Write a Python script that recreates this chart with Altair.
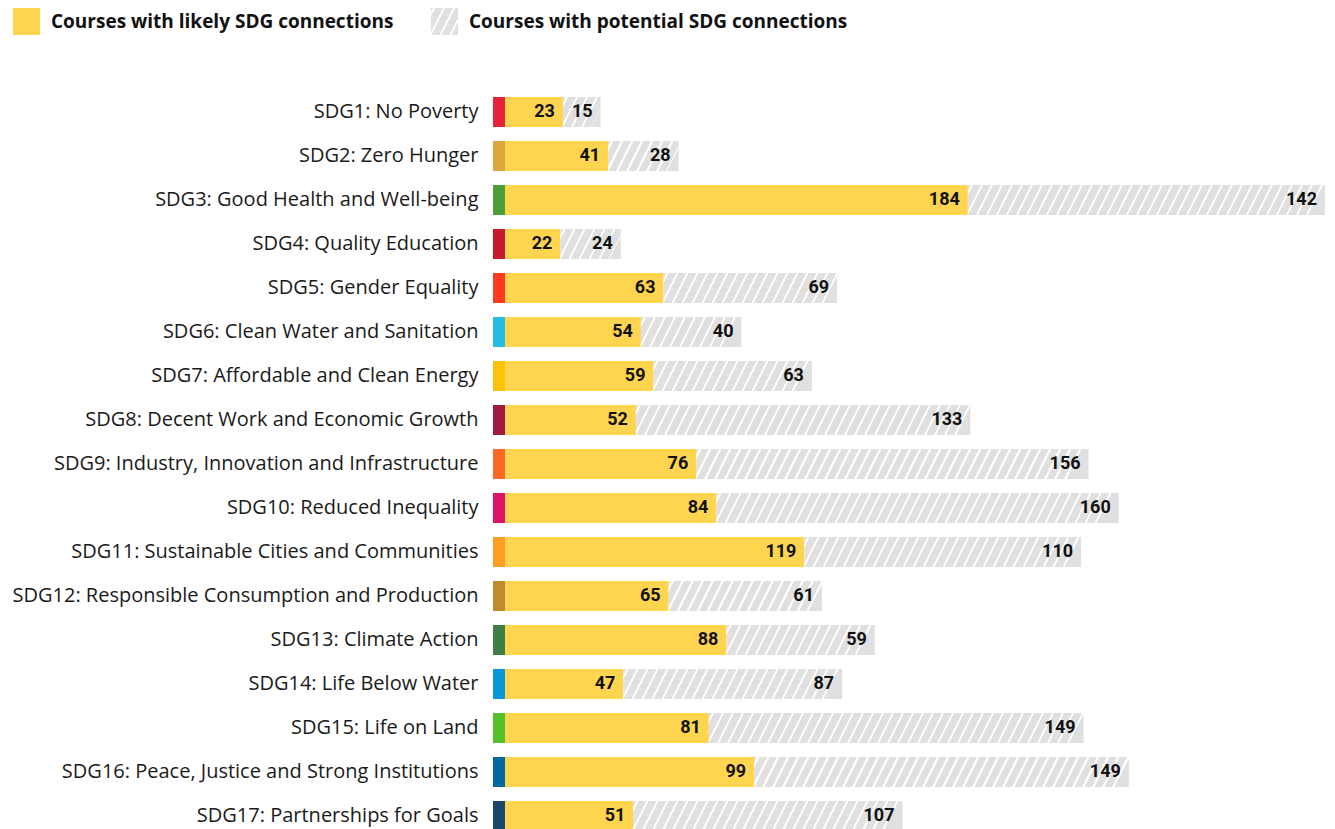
import json
import altair as alt
import pandas as pd

# ---------------- data ----------------
sdgs = [
    "SDG1: No Poverty",
    "SDG2: Zero Hunger",
    "SDG3: Good Health and Well-being",
    "SDG4: Quality Education",
    "SDG5: Gender Equality",
    "SDG6: Clean Water and Sanitation",
    "SDG7: Affordable and Clean Energy",
    "SDG8: Decent Work and Economic Growth",
    "SDG9: Industry, Innovation and Infrastructure",
    "SDG10: Reduced Inequality",
    "SDG11: Sustainable Cities and Communities",
    "SDG12: Responsible Consumption and Production",
    "SDG13: Climate Action",
    "SDG14: Life Below Water",
    "SDG15: Life on Land",
    "SDG16: Peace, Justice and Strong Institutions",
    "SDG17: Partnerships for Goals",
]
likely = [23, 41, 184, 22, 63, 54, 59, 52, 76, 84, 119, 65, 88, 47, 81, 99, 51]
potential = [15, 28, 142, 24, 69, 40, 63, 133, 156, 160, 110, 61, 59, 87, 149, 149, 107]
sdg_colors = [
    "#E5243B", "#DDA63A", "#4C9F38", "#C5192D", "#FF3A21", "#26BDE2",
    "#FCC30B", "#A21942", "#FD6925", "#DD1367", "#FD9D24", "#BF8B2E",
    "#3F7E44", "#0A97D9", "#56C02B", "#00689D", "#19486A",
]

LIKELY_LABEL = "Courses with likely SDG connections"
POTENTIAL_LABEL = "Courses with potential SDG connections"

# ---------------- style ----------------
YELLOW = "#FFD44F"
GRAY = "#E0E0E0"
X_MIN, X_MAX = -4.8, 326
WIDTH, HEIGHT = 832, 748
PX = WIDTH / (X_MAX - X_MIN)
BAR_H = 30
TOP = 82


def hatch(w, h, slope=0.5, period=10.0, line=2.2, phase=3.0):
    """Diagonal white stripes on gray, as a hard-stop linear gradient."""
    b = slope * h / w
    T = w * (1 + b * b)
    stops = [{"offset": 0, "color": GRAY}]
    s = phase
    while s < w + slope * h:
        t0 = min(s / T, 1)
        t1 = min((s + line) / T, 1)
        stops += [
            {"offset": round(t0, 5), "color": GRAY},
            {"offset": round(t0, 5), "color": "#ffffff"},
            {"offset": round(t1, 5), "color": "#ffffff"},
            {"offset": round(t1, 5), "color": GRAY},
        ]
        s += period
    stops.append({"offset": 1, "color": GRAY})
    return {"gradient": "linear", "x1": 0, "y1": 0, "x2": 1, "y2": round(b, 5), "stops": stops}


df = pd.DataFrame({
    "sdg": sdgs,
    "likely": likely,
    "potential": potential,
    "stub_color": sdg_colors,
})
df["total"] = df["likely"] + df["potential"]
df["stub_start"] = X_MIN
df["zero"] = 0
df["type"] = LIKELY_LABEL
df["ptype"] = POTENTIAL_LABEL
df["hatch"] = [hatch(p * PX, BAR_H) for p in potential]

legend_hatch = hatch(27, 27, phase=2.0)

legend_common = dict(
    title=None, orient="none", legendY=-TOP,
    direction="horizontal", symbolType="square", symbolSize=729,
    symbolStrokeWidth=0, symbolOpacity=1, labelFont="Open Sans", labelFontWeight="bold",
    labelFontSize=19, labelColor="#111111", labelOffset=11,
    padding=0, labelLimit=600,
)

xscale = alt.Scale(domain=[X_MIN, X_MAX], nice=False, zero=False)
Y = alt.Y(
    "sdg:N",
    sort=sdgs,
    scale=alt.Scale(paddingInner=0.318, paddingOuter=0.159),
    axis=alt.Axis(
        title=None, labelFont="Open Sans", labelFontSize=20, labelColor="#1a1a1a",
        labelPadding=15, ticks=False, domain=False, labelLimit=700,
    ),
)

base = alt.Chart(df)

stub = base.mark_bar().encode(
    x=alt.X("stub_start:Q", scale=xscale, axis=None),
    x2="zero:Q",
    y=Y,
    fill=alt.Fill("stub_color:N", scale=None),
)

likely_bar = base.mark_bar().encode(
    x=alt.X("zero:Q", scale=xscale, axis=None),
    x2="likely:Q",
    y=Y,
    color=alt.Color(
        "type:N",
        scale=alt.Scale(domain=[LIKELY_LABEL], range=[YELLOW]),
        legend=alt.Legend(legendX=-480, **legend_common),
    ),
)

pot_bar = base.mark_bar().encode(
    x=alt.X("likely:Q", scale=xscale, axis=None),
    x2="total:Q",
    y=Y,
    fill=alt.Fill("hatch:N", scale=None),
    opacity=alt.Opacity(
        "ptype:N",
        scale=alt.Scale(domain=[POTENTIAL_LABEL], range=[1]),
        legend=alt.Legend(
            legendX=-62,
            symbolFillColor=alt.ExprRef(expr=json.dumps(legend_hatch)),
            **legend_common,
        ),
    ),
)

text_style = dict(align="right", baseline="middle", dx=-8, font="Roboto",
                  fontWeight="bold", fontSize=18, color="#111111")

likely_text = base.mark_text(**text_style).encode(
    x=alt.X("likely:Q", scale=xscale, axis=None), y=Y, text="likely:Q"
)
pot_text = base.mark_text(**text_style).encode(
    x=alt.X("total:Q", scale=xscale, axis=None), y=Y, text="potential:Q"
)

chart = alt.layer(stub, likely_bar, pot_bar, likely_text, pot_text).properties(
    width=WIDTH,
    height=HEIGHT,
    padding={"left": 485, "top": TOP, "right": 0, "bottom": 0},
    autosize=alt.AutoSizeParams(type="none"),
).configure_view(stroke=None)

chart.save("out.html", embed_options={"renderer": "svg", "actions": False})
